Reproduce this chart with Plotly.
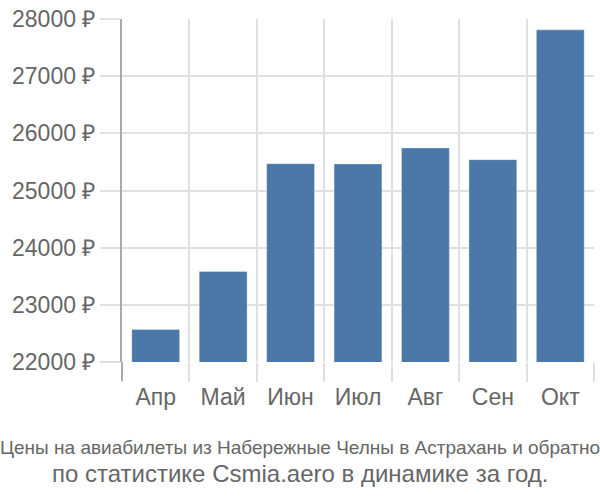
import plotly.graph_objects as go

months = ["Апр", "Май", "Июн", "Июл", "Авг", "Сен", "Окт"]
prices = [22570, 23585, 25470, 25465, 25745, 25540, 27810]
y_ticks = [22000, 23000, 24000, 25000, 26000, 27000, 28000]
y_tick_text = [f"{v} ₽" for v in y_ticks]
title_line1 = "Цены на авиабилеты из Набережные Челны в Астрахань и обратно"
title_line2 = "по статистике Csmia.aero в динамике за год."

font_family = "Liberation Sans, Arial, sans-serif"
text_color = "#666666"
grid_color = "#e0e0e0"

fig = go.Figure(
    go.Bar(
        x=months,
        y=prices,
        marker=dict(color="#4c78a8", line=dict(color="rgba(255,255,255,0.35)", width=1)),
        hoverinfo="x+y",
    )
)

fig.update_layout(
    width=600,
    height=500,
    margin=dict(l=122, r=6, t=14, b=138),
    paper_bgcolor="white",
    plot_bgcolor="white",
    bargap=0.29,
    showlegend=False,
    font=dict(family=font_family, color=text_color),
)

fig.update_xaxes(
    type="category",
    tickson="boundaries",
    showgrid=True,
    gridcolor=grid_color,
    gridwidth=2,
    ticks="outside",
    ticklen=19,
    tickwidth=2,
    tickcolor=grid_color,
    ticklabelstandoff=19,
    tickfont=dict(size=23, color=text_color, family=font_family),
    showline=False,
    zeroline=False,
)

fig.update_yaxes(
    range=[22000, 28000],
    tickvals=y_ticks,
    ticktext=y_tick_text,
    showgrid=True,
    gridcolor=grid_color,
    gridwidth=2,
    ticks="outside",
    ticklen=20,
    tickwidth=2,
    tickcolor=grid_color,
    tickfont=dict(size=23, color=text_color, family=font_family),
    showline=True,
    linecolor="#aaaaaa",
    linewidth=2,
    zeroline=False,
)

# darker extension of the y-axis line below the plot (first boundary tick)
fig.add_shape(
    type="line", xref="paper", yref="paper",
    x0=0, x1=0, y0=0, y1=-19 / 348,
    line=dict(color="#aaaaaa", width=2),
)

fig.add_annotation(
    text=title_line1,
    xref="paper", yref="paper",
    x=(300 - 122) / 472, y=0, xanchor="center", yanchor="middle",
    yshift=-85,
    showarrow=False,
    font=dict(size=19, color=text_color, family=font_family),
)
fig.add_annotation(
    text=title_line2,
    xref="paper", yref="paper",
    x=(300 - 122) / 472, y=0, xanchor="center", yanchor="middle",
    yshift=-111,
    showarrow=False,
    font=dict(size=24, color=text_color, family=font_family),
)

fig.write_html("out.html")
